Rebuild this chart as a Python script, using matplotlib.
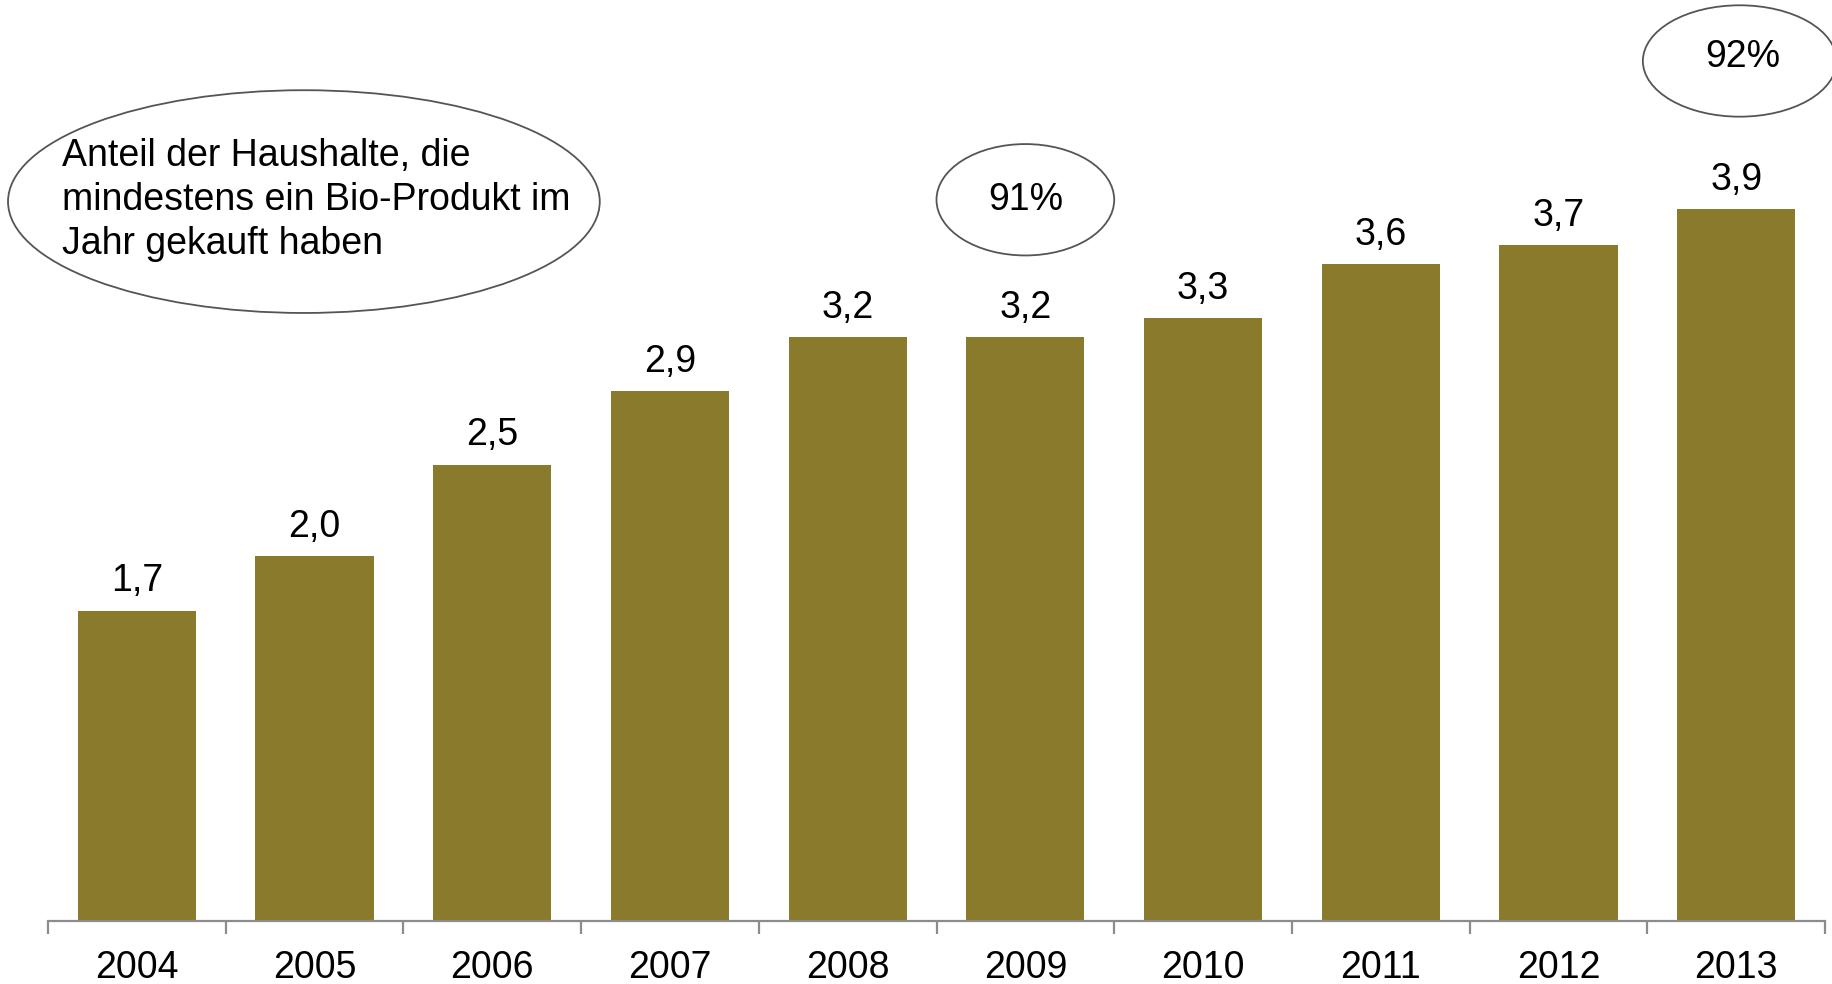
import matplotlib
matplotlib.use("Agg")
import matplotlib.pyplot as plt
from matplotlib.patches import Ellipse
import numpy as np

plt.rcParams['font.family'] = ['Liberation Sans', 'DejaVu Sans']

years = ['2004', '2005', '2006', '2007', '2008', '2009', '2010', '2011', '2012', '2013']
values = [1.7, 2.0, 2.5, 2.9, 3.2, 3.2, 3.3, 3.6, 3.7, 3.9]
labels = ['1,7', '2,0', '2,5', '2,9', '3,2', '3,2', '3,3', '3,6', '3,7', '3,9']
note = 'Anteil der Haushalte, die\nmindestens ein Bio-Produkt im\nJahr gekauft haben'
share_labels = {'2009': '91%', '2013': '92%'}

bar_color = '#8a7a2b'
axis_color = '#8c8c8c'
fs = 27

fig = plt.figure(figsize=(18.32, 9.84), dpi=100)
ax = fig.add_axes([48 / 1832, 63 / 984, 1777 / 1832, 921 / 984])

x = np.arange(len(years))
bars = ax.bar(x, values, width=0.665, color=bar_color)

for b, lab in zip(bars, labels):
    ax.annotate(lab, (b.get_x() + b.get_width() / 2, b.get_height()),
                xytext=(0, 8), textcoords='offset points',
                ha='center', va='bottom', fontsize=fs)

ax.set_xlim(-0.5, len(years) - 0.5)
ax.set_ylim(0, 5.044)

for s in ['top', 'right', 'left']:
    ax.spines[s].set_visible(False)
ax.spines['bottom'].set_color(axis_color)
ax.spines['bottom'].set_linewidth(1.6)

ax.set_yticks([])
ax.set_xticks(x)
ax.set_xticklabels(years, fontsize=fs)
ax.tick_params(axis='x', which='major', length=0, pad=21)
ax.set_xticks(np.arange(-0.5, len(years), 1.0), minor=True)
ax.tick_params(axis='x', which='minor', length=9, width=1.6, color=axis_color)

# callout ellipses
ax.add_patch(Ellipse((0.94, 3.94), 3.33, 1.22, fill=False, edgecolor='#555555',
                     linewidth=1.3, clip_on=False))
ax.text(-0.42, 3.95, note, ha='left', va='center', fontsize=fs, linespacing=1.29)

i09 = years.index('2009')
ax.add_patch(Ellipse((i09, 3.95), 1.0, 0.61, fill=False, edgecolor='#555555',
                     linewidth=1.3, clip_on=False))
ax.text(i09, 3.95, share_labels['2009'], ha='center', va='center', fontsize=fs)

i13 = years.index('2013')
ax.add_patch(Ellipse((i13 + 0.02, 4.71), 1.09, 0.61, fill=False, edgecolor='#555555',
                     linewidth=1.3, clip_on=False))
ax.text(i13 + 0.04, 4.73, share_labels['2013'], ha='center', va='center', fontsize=fs)

fig.savefig('out.png', dpi=100)
